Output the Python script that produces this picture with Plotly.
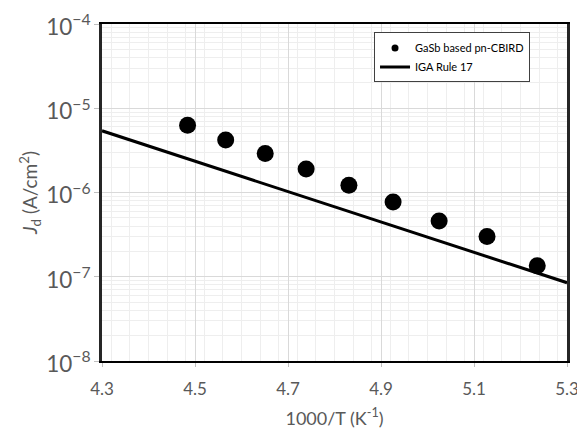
import plotly.graph_objects as go

# Data
inv_T = [4.484, 4.566, 4.651, 4.739, 4.831, 4.926, 5.025, 5.128, 5.236]
jd = [6.3e-6, 4.2e-6, 2.9e-6, 1.9e-6, 1.22e-6, 7.7e-7, 4.6e-7, 3.0e-7, 1.35e-7]
rule_x = [4.3, 5.3]
rule_y = [5.4e-6, 8.5e-8]
x_ticks = [4.3, 4.5, 4.7, 4.9, 5.1, 5.3]

FONT = "Lato, Open Sans, sans-serif"
TXT = "#595959"

fig = go.Figure()
fig.add_trace(go.Scatter(x=inv_T, y=jd, mode="markers", showlegend=False,
                         marker=dict(size=17, color="black")))
fig.add_trace(go.Scatter(x=[None], y=[None], mode="markers", name="GaSb based pn-CBIRD",
                         marker=dict(size=7, color="black")))
fig.add_trace(go.Scatter(x=rule_x, y=rule_y, mode="lines", name="IGA Rule 17",
                         line=dict(color="black", width=3)))

# page body adds an 8px offset, so the figure is slightly smaller than the window
fig.update_layout(
    width=577, height=422,
    margin=dict(l=94, r=18, t=16, b=69),
    paper_bgcolor="white", plot_bgcolor="white",
    font=dict(family=FONT, color=TXT, size=15),
    legend=dict(x=0.585, y=0.975, xanchor="left", yanchor="top",
                bgcolor="white", bordercolor="#404040", borderwidth=1,
                font=dict(size=11, color="black", family=FONT),
                tracegroupgap=0, itemwidth=30),
)
fig.update_xaxes(
    range=[4.3, 5.3], tickvals=x_ticks, ticktext=[f"{v:.1f}" for v in x_ticks],
    showline=True, linecolor="black", linewidth=2, mirror=True,
    ticks="outside", ticklen=4, tickcolor="#bfbfbf",
    showgrid=True, gridcolor="#d9d9d9", gridwidth=1,
    minor=dict(dtick=0.04, showgrid=True, gridcolor="#eeeeee", ticks=""),
    tickfont=dict(size=17, color=TXT), ticklabeloverflow="allow", ticklabelstandoff=8,
    title=dict(text="1000/T (K<sup>-1</sup>)", font=dict(size=18, color=TXT), standoff=14),
    zeroline=False, automargin=False,
)
fig.update_yaxes(
    type="log", range=[-8, -4], dtick=1, exponentformat="power",
    showline=True, linecolor="#262626", linewidth=2.5, mirror=True,
    ticks="outside", ticklen=5, tickcolor="#bfbfbf",
    showgrid=True, gridcolor="#d9d9d9", gridwidth=1,
    minor=dict(dtick="D1", showgrid=True, gridcolor="#eeeeee", ticks=""),
    tickfont=dict(size=18, color=TXT), ticklabeloverflow="allow", ticklabelshift=3,
    title=dict(text="<i>J</i><sub>d</sub> (A/cm<sup>2</sup>)", font=dict(size=19, color=TXT), standoff=4),
    zeroline=False, automargin=False,
)

fig.write_html("out.html")
